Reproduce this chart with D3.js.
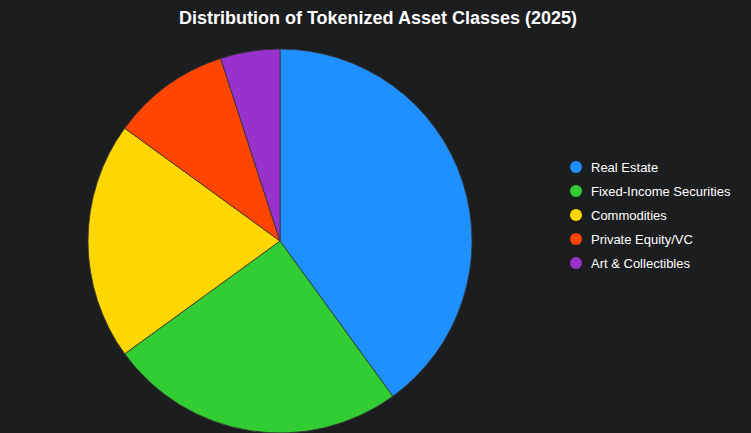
<!DOCTYPE html>
<html lang="en">
<head>
<meta charset="UTF-8">
<style>
  body { margin: 0; background: #1c1d1f; overflow: hidden; }
  svg { display: block; font-family: Arial, "Liberation Sans", sans-serif; }
</style>
</head>
<body>
<svg id="chart" width="751" height="433"></svg>
<script src="https://d3js.org/d3.v7.min.js"></script>
<script>
// chart data
var categories = ["Real Estate", "Fixed-Income Securities", "Commodities", "Private Equity/VC", "Art & Collectibles"];
var shares = [40, 25, 20, 10, 5];
var colors = ["#1e90ff", "#32cd32", "#ffd700", "#ff4500", "#9932cc"];

var svg = d3.select("#chart");

svg.append("text")
    .attr("x", 378).attr("y", 24)
    .attr("text-anchor", "middle")
    .attr("fill", "#ffffff")
    .style("font-size", "18px")
    .style("font-weight", "bold")
    .text("Distribution of Tokenized Asset Classes (2025)");

var pie = d3.pie().sort(null).value(function(d) { return d; });
var arc = d3.arc().innerRadius(0).outerRadius(192);

var g = svg.append("g").attr("transform", "translate(280,241)");
g.selectAll("path")
    .data(pie(shares))
    .enter().append("path")
    .attr("d", arc)
    .attr("fill", function(d, i) { return colors[i]; })
    .attr("stroke", "#333")
    .attr("stroke-width", 0.8);

// legend
var legend = svg.append("g").attr("transform", "translate(576,167)");
var item = legend.selectAll("g")
    .data(categories)
    .enter().append("g")
    .attr("transform", function(d, i) { return "translate(0," + (i * 24) + ")"; });
item.append("circle")
    .attr("r", 6)
    .attr("fill", function(d, i) { return colors[i]; });
item.append("text")
    .attr("x", 15).attr("y", 4.5)
    .attr("fill", "#ffffff")
    .style("font-size", "13px")
    .text(function(d) { return d; });
</script>
</body>
</html>
